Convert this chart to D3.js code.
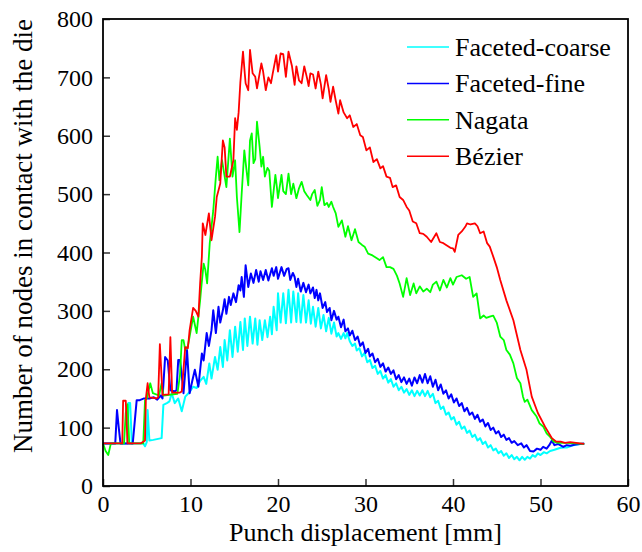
<!DOCTYPE html>
<html>
<head>
<meta charset="utf-8">
<script src="https://cdn.jsdelivr.net/npm/d3@7"></script>
<style>
  body { margin: 0; background: #fff; }
  svg text { font-family: "Liberation Serif", "Times New Roman", serif; fill: #000; }
</style>
</head>
<body>
<svg id="chart" width="642" height="552"></svg>
<script>
// Series names and colours
const seriesNames = ["Faceted-coarse", "Faceted-fine", "Nagata", "Bézier"]
const seriesColors = ["#00FFFF", "#0000FF", "#00FF00", "#FF0000"]

const xTicks = [0, 10, 20, 30, 40, 50, 60]
const yTicks = [0, 100, 200, 300, 400, 500, 600, 700, 800]

// [punch displacement (mm), nodes in contact]
const facetedCoarse = [
  [0,73],[2.8,73],[2.9,142],[3.1,142],[3.3,73],[4.6,73],[4.8,68],[5.0,75],[5.1,130],[5.3,78],
  [5.75,79],[6.7,82],[6.9,139],[7.3,142],[7.6,145],[7.85,159],[8.2,142],[8.6,150],[9.0,128],[9.4,153],
  [9.9,161],[10.3,170],[10.7,168],[11.1,180],[11.5,187],[11.8,175],[12.15,210],[12.4,184],[12.8,221],[13.1,199],
  [13.4,238],[13.7,204],[13.9,250],[14.2,215],[14.5,267],[14.8,221],[15.1,273],[15.4,230],[15.7,281],[16.0,233],
  [16.2,287],[16.5,240],[16.8,290],[17.1,244],[17.4,287],[17.65,242],[17.9,284],[18.2,250],[18.5,284],[18.8,255],
  [19.1,290],[19.3,260],[19.5,307],[19.85,267],[20.0,330],[20.3,280],[20.6,330],[20.9,279],[21.2,336],[21.5,280],
  [21.75,333],[22.1,281],[22.3,330],[22.6,280],[22.9,327],[23.2,280],[23.5,318],[23.75,278],[24.0,307],[24.3,273],
  [24.6,305],[24.9,270],[25.2,293],[25.5,265],[25.8,288],[26.1,261],[26.4,280],[26.7,256],[26.9,262],[27.2,252],
  [27.5,262],[27.7,253],[27.9,262],[28.2,248],[28.5,240],[28.8,244],[29.0,232],[29.3,236],[29.6,222],[29.9,228],
  [30.2,212],[30.5,216],[30.8,202],[31.1,206],[31.4,192],[31.7,197],[32.0,184],[32.3,190],[32.6,177],[32.9,183],
  [33.2,170],[33.5,176],[33.8,164],[34.1,170],[34.4,160],[34.7,166],[35.0,156],[35.3,164],[35.6,154],[35.9,163],
  [36.2,155],[36.5,164],[36.8,154],[37.1,163],[37.4,152],[37.7,158],[38.0,142],[38.3,146],[38.6,132],[38.9,136],
  [39.2,122],[39.5,126],[39.8,114],[40.1,118],[40.4,105],[40.7,110],[41.0,98],[41.3,102],[41.6,91],[41.9,95],
  [42.2,84],[42.5,88],[42.8,78],[43.1,82],[43.4,72],[43.7,76],[44.0,66],[44.3,70],[44.6,61],[44.9,64],
  [45.2,56],[45.5,60],[45.8,52],[46.1,56],[46.4,48],[46.7,53],[47.0,46],[47.3,50],[47.6,44],[47.9,50],
  [48.2,45],[48.5,50],[48.8,47],[49.1,53],[49.4,50],[49.7,56],[50.0,53],[50.4,58],[50.7,56],[51.1,60],
  [51.6,62],[52.2,65],[52.6,66],[53.0,66],[53.4,68],[53.75,70],[54.2,71],[54.5,72],[55,72]
]

const facetedFine = [
  [0,73],[1.4,73],[1.6,130],[1.8,100],[2.0,73],[3.4,73],[3.85,147],[4.2,147],[4.7,150],[5.3,150],
  [5.8,152],[6.2,148],[6.6,155],[6.8,150],[7.1,221],[7.4,215],[7.7,164],[8.2,162],[8.4,164],[8.6,216],
  [8.8,216],[9.0,190],[9.2,159],[9.6,233],[9.9,159],[10.2,180],[10.5,199],[10.9,170],[11.3,227],[11.5,215],
  [11.85,262],[12.1,240],[12.4,267],[12.6,301],[12.9,262],[13.2,307],[13.4,280],[13.7,301],[13.9,320],[14.1,295],
  [14.4,324],[14.6,310],[14.9,330],[15.2,315],[15.5,344],[15.7,335],[15.85,358],[16.1,324],[16.3,378],[16.6,341],
  [16.9,364],[17.2,348],[17.5,370],[17.8,350],[18.0,368],[18.3,353],[18.6,370],[18.9,352],[19.3,373],[19.5,360],
  [19.8,375],[20.0,355],[20.4,375],[20.7,360],[21.0,372],[21.2,373],[21.4,353],[21.7,365],[21.9,358],[22.1,341],
  [22.3,355],[22.6,333],[22.9,348],[23.2,332],[23.5,345],[23.7,330],[24.0,340],[24.2,322],[24.4,336],[24.6,318],
  [24.8,330],[25.1,305],[25.4,315],[25.6,298],[25.9,305],[26.1,284],[26.4,300],[26.7,285],[26.9,290],[27.2,272],
  [27.5,285],[27.7,265],[28.0,270],[28.2,258],[28.5,266],[28.8,250],[29.1,256],[29.4,240],[29.7,246],[30.0,228],
  [30.3,235],[30.5,222],[30.8,227],[31.1,212],[31.4,218],[31.7,204],[32.0,210],[32.3,196],[32.6,203],[32.9,192],
  [33.2,198],[33.5,183],[33.8,190],[34.1,178],[34.4,186],[34.7,175],[35.0,184],[35.3,172],[35.6,186],[35.9,176],
  [36.2,190],[36.5,177],[36.8,192],[37.1,176],[37.4,188],[37.7,170],[38.0,182],[38.3,164],[38.6,174],[38.9,158],
  [39.2,164],[39.5,150],[39.8,157],[40.1,143],[40.4,150],[40.7,137],[41.0,142],[41.3,128],[41.6,134],[41.9,122],
  [42.2,126],[42.5,115],[42.8,122],[43.1,110],[43.4,114],[43.7,102],[44.0,108],[44.3,96],[44.6,100],[44.9,90],
  [45.2,94],[45.5,84],[45.8,88],[46.1,79],[46.4,82],[46.7,74],[47.0,77],[47.4,70],[47.8,73],[48.1,66],
  [48.4,70],[48.8,60],[49.2,59],[49.6,64],[50.0,62],[50.3,67],[50.7,64],[51.0,70],[51.3,78],[51.6,70],
  [52.0,72],[52.6,67],[53.0,70],[53.4,69],[54.0,71],[54.5,72],[55,73]
]

const nagata = [
  [0,73],[0.3,60],[0.6,53],[0.9,73],[2.4,73],[2.6,125],[2.8,140],[3.0,73],[4.6,73],[4.8,147],
  [5.0,150],[5.4,176],[5.7,159],[6.4,155],[6.7,176],[6.9,155],[8.5,158],[8.8,190],[9.0,250],[9.2,250],
  [9.4,233],[9.7,240],[9.9,256],[10.3,290],[10.7,262],[11.1,318],[11.2,335],[11.5,381],[11.7,370],[11.9,347],
  [12.2,416],[12.6,472],[12.9,530],[13.1,564],[13.3,524],[13.6,558],[13.8,540],[14.1,512],[14.5,595],[14.8,530],
  [15.1,558],[15.3,495],[15.6,435],[15.85,501],[16.15,575],[16.4,541],[16.6,515],[16.8,592],[17.0,604],[17.2,553],
  [17.4,560],[17.6,624],[17.9,581],[18.1,547],[18.3,564],[18.5,530],[18.8,545],[19.0,540],[19.3,478],[19.7,533],
  [19.85,515],[20.0,493],[20.4,533],[20.6,505],[20.9,500],[21.2,535],[21.5,500],[21.75,518],[22.1,493],[22.4,510],
  [22.7,521],[23.0,505],[23.3,498],[23.7,490],[23.9,500],[24.2,507],[24.5,480],[24.8,490],[25.0,512],[25.3,481],
  [25.6,485],[25.8,478],[26.1,487],[26.3,478],[26.6,467],[26.9,444],[27.3,455],[27.7,427],[28.0,445],[28.4,421],
  [28.8,440],[29.2,418],[29.6,413],[29.9,410],[30.3,398],[30.8,395],[31.3,390],[31.6,387],[32.0,392],[32.4,375],
  [32.8,375],[33.2,372],[33.6,360],[33.9,347],[34.3,324],[34.7,356],[35.1,327],[35.5,347],[35.8,330],[36.2,342],
  [36.6,333],[37.0,338],[37.4,332],[37.7,345],[38.1,350],[38.5,335],[38.9,353],[39.3,340],[39.7,356],[40.0,345],
  [40.4,358],[41.0,361],[41.5,355],[41.9,358],[42.3,324],[42.7,330],[43.1,287],[43.5,292],[43.8,288],[44.2,290],
  [44.6,292],[45.0,280],[45.4,256],[45.8,250],[46.1,233],[46.5,225],[46.9,210],[47.3,185],[47.7,176],[48.0,153],
  [48.2,144],[48.5,148],[49.0,130],[49.55,119],[49.9,107],[50.3,102],[50.7,90],[51.1,84],[51.5,76],[52.0,74],
  [53,74],[54,73],[55,72]
]

const bezier = [
  [0,73],[2.2,73],[2.3,146],[2.6,146],[2.8,73],[4.3,73],[4.8,78],[4.9,150],[5.1,176],[5.3,152],
  [6.1,150],[6.3,152],[6.5,243],[6.8,156],[7.5,157],[7.7,255],[7.9,160],[8.8,160],[9.0,162],[9.4,238],
  [9.7,236],[9.9,267],[10.3,305],[10.6,300],[10.9,290],[11.1,347],[11.3,393],[11.4,450],[11.7,430],[12.1,467],
  [12.4,421],[12.8,461],[13.0,495],[13.4,518],[13.7,592],[13.9,580],[14.1,530],[14.5,530],[14.9,558],[15.1,630],
  [15.3,610],[15.5,640],[15.7,692],[16.0,744],[16.2,707],[16.3,690],[16.6,678],[16.8,747],[17.1,707],[17.4,701],
  [17.6,681],[17.9,707],[18.1,724],[18.3,710],[18.6,678],[18.9,700],[19.2,690],[19.4,707],[19.8,738],[20.0,710],
  [20.3,741],[20.6,740],[20.9,701],[21.2,744],[21.6,719],[21.9,687],[22.1,719],[22.4,695],[22.7,690],[23.0,719],
  [23.3,700],[23.5,685],[23.7,707],[24.0,705],[24.3,681],[24.6,710],[24.9,688],[25.1,664],[25.5,704],[25.8,680],
  [26.0,658],[26.3,684],[26.6,660],[26.9,638],[27.1,661],[27.5,640],[27.9,630],[28.2,635],[28.6,615],[29.0,620],
  [29.4,601],[29.7,598],[30.1,575],[30.5,580],[30.9,555],[31.3,560],[31.7,544],[32.0,548],[32.4,530],[32.8,528],
  [33.1,512],[33.5,515],[33.9,495],[34.3,490],[34.7,478],[35.0,472],[35.4,453],[35.8,450],[36.2,433],[36.6,432],
  [37.0,427],[37.5,418],[38.1,433],[38.5,418],[38.9,416],[39.3,412],[39.7,408],[40.0,407],[40.2,401],[40.6,430],
  [41.0,436],[41.4,444],[41.6,450],[42.0,448],[42.5,450],[42.8,445],[43.1,433],[43.5,436],[43.9,416],[44.2,410],
  [44.6,393],[45.0,375],[45.4,353],[46.1,318],[46.9,284],[47.7,233],[48.4,199],[49.0,153],[49.7,125],[50.5,102],
  [51.3,82],[51.8,76],[52.3,76],[52.8,74],[53.4,75],[54.5,73],[55,72]
]

const seriesData = [facetedCoarse, facetedFine, nagata, bezier]

// Layout
const svg = d3.select("#chart")
const plotLeft = 103, plotRight = 628, plotTop = 19, plotBottom = 486

const xScale = d3.scaleLinear().domain([0, 60]).range([plotLeft, plotRight])
const yScale = d3.scaleLinear().domain([0, 800]).range([plotBottom, plotTop])

// Lines (coarse first, Bézier on top)
const line = d3.line()
    .x(d => xScale(d[0]))
    .y(d => yScale(d[1]))

seriesData.forEach((data, i) => {
    svg.append("path")
        .datum(data)
        .attr("fill", "none")
        .attr("stroke", seriesColors[i])
        .attr("stroke-width", i < 2 ? 2 : 1.8)
        .attr("stroke-linejoin", "round")
        .attr("d", line)
})

// Axes with inward ticks
const xAxis = svg.append("g")
    .attr("transform", `translate(0,${plotBottom})`)
    .call(d3.axisBottom(xScale).tickValues(xTicks).tickSizeInner(-7).tickSizeOuter(0).tickPadding(9))
const yAxis = svg.append("g")
    .attr("transform", `translate(${plotLeft},0)`)
    .call(d3.axisLeft(yScale).tickValues(yTicks).tickSizeInner(-7).tickSizeOuter(0).tickPadding(10))

;[xAxis, yAxis].forEach(g => {
    g.select(".domain").remove()
    g.selectAll(".tick line").attr("stroke", "#333").attr("stroke-width", 1.5)
    g.selectAll(".tick text")
        .style("font-family", '"Liberation Serif", serif')
        .style("font-size", "24px")
        .attr("fill", "#000")
})

// Frame
svg.append("rect")
    .attr("x", plotLeft)
    .attr("y", plotTop)
    .attr("width", plotRight - plotLeft)
    .attr("height", plotBottom - plotTop)
    .attr("fill", "none")
    .attr("stroke", "#000")
    .attr("stroke-width", 1.8)

// Axis titles
svg.append("text")
    .attr("x", (plotLeft + plotRight) / 2)
    .attr("y", 541)
    .attr("text-anchor", "middle")
    .style("font-size", "26px")
    .text("Punch displacement [mm]")

svg.append("text")
    .attr("transform", "translate(32,236) rotate(-90)")
    .attr("text-anchor", "middle")
    .style("font-size", "27px")
    .text("Number of nodes in contact with the die")

// Legend
const legend = svg.append("g")
seriesNames.forEach((name, i) => {
    const ly = 47 + i * 36.4
    legend.append("line")
        .attr("x1", 407).attr("x2", 449)
        .attr("y1", ly).attr("y2", ly)
        .attr("stroke", seriesColors[i])
        .attr("stroke-width", 1.5)
    legend.append("text")
        .attr("x", 455)
        .attr("y", ly + 9)
        .style("font-size", "26px")
        .text(name)
})
</script>
</body>
</html>
